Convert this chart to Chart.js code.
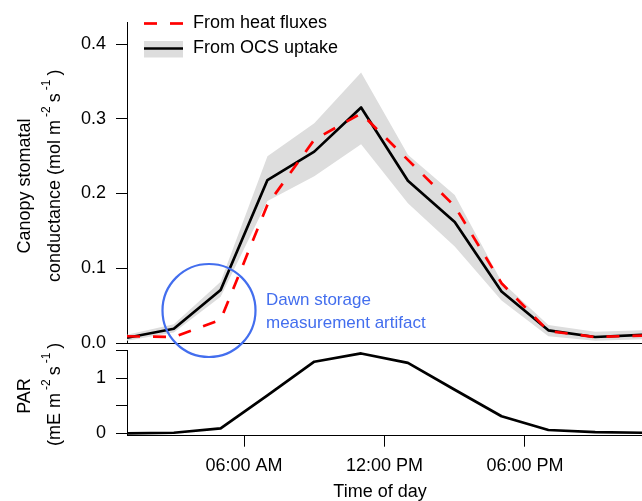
<!DOCTYPE html>
<html>
<head>
<meta charset="utf-8">
<script src="https://cdn.jsdelivr.net/npm/chart.js@4.4.1/dist/chart.umd.min.js"></script>
<style>
  body { margin: 0; background: #fff; }
  #wrap { position: relative; width: 642px; height: 501px; }
  #wrap canvas { position: absolute; left: 0; top: 0; }
</style>
</head>
<body>
<div id="wrap">
  <canvas id="gsChart" width="642" height="501"></canvas>
  <canvas id="parChart" width="642" height="501"></canvas>
</div>
<script>
// data, hourly means every 2 h
var hours = [1, 3, 5, 7, 9, 11, 13, 15, 17, 19, 21, 23];
var ocsUptake  = [0.007, 0.019, 0.071, 0.218, 0.256, 0.315, 0.217, 0.162, 0.069, 0.017, 0.008, 0.011];
var ocsUpper   = [0.011, 0.025, 0.082, 0.250, 0.294, 0.362, 0.252, 0.198, 0.082, 0.024, 0.015, 0.017];
var ocsLower   = [0.003, 0.014, 0.062, 0.190, 0.223, 0.266, 0.187, 0.129, 0.057, 0.009, 0.003, 0.005];
var heatFluxes = [0.009, 0.008, 0.031, 0.185, 0.272, 0.307, 0.245, 0.183, 0.080, 0.016, 0.008, 0.010];
var par        = [0, 0.01, 0.09, 0.69, 1.30, 1.45, 1.28, 0.79, 0.31, 0.06, 0.02, 0.01];

var gsTicks = [0, 0.1, 0.2, 0.3, 0.4];
var parTicks = [0, 0.5, 1, 1.5];
var parTickLabels = ['0', '', '1', ''];
var timeTicks = [6, 12, 18];
var timeTickLabels = ['06:00 AM', '12:00 PM', '06:00 PM'];

var FONT = "'Liberation Sans', Arial, Helvetica, sans-serif";
var BLUE = '#436EEE';

Chart.defaults.font.family = FONT;
Chart.defaults.font.size = 18;
Chart.defaults.color = '#000';

function pts(arr) {
  return hours.map(function (h, i) { return { x: h, y: arr[i] }; });
}

// rotated axis title, parts go bottom -> top
function vText(ctx, xBase, yStart, parts) {
  ctx.save();
  ctx.translate(xBase, yStart);
  ctx.rotate(-Math.PI / 2);
  ctx.textAlign = 'left';
  ctx.textBaseline = 'alphabetic';
  var pos = 0;
  parts.forEach(function (p) {
    ctx.font = (p.sup ? '12px ' : '18px ') + FONT;
    pos += p.gap || 0;
    ctx.fillText(p.t, pos, p.sup ? -10 : 0);
    pos += ctx.measureText(p.t).width;
  });
  ctx.restore();
}

var decor = {
  id: 'decor',
  afterDraw: function (chart) {
    var ctx = chart.ctx;
    ctx.save();
    ctx.fillStyle = '#000';

    // legend
    ctx.fillStyle = '#dddddd';
    ctx.fillRect(144, 41, 39, 16.5);
    ctx.strokeStyle = '#000';
    ctx.lineWidth = 2.7;
    ctx.beginPath(); ctx.moveTo(144, 48.5); ctx.lineTo(183, 48.5); ctx.stroke();
    ctx.strokeStyle = '#ff0000';
    ctx.setLineDash([13, 13]);
    ctx.beginPath(); ctx.moveTo(144, 23.5); ctx.lineTo(183, 23.5); ctx.stroke();
    ctx.setLineDash([]);
    ctx.fillStyle = '#000';
    ctx.font = '18px ' + FONT;
    ctx.textAlign = 'left';
    ctx.textBaseline = 'middle';
    ctx.fillText('From heat fluxes', 193, 23.5);
    ctx.fillText('From OCS uptake', 193, 48.5);

    // y titles
    ctx.save();
    ctx.translate(30, 186);
    ctx.rotate(-Math.PI / 2);
    ctx.textAlign = 'center';
    ctx.textBaseline = 'alphabetic';
    ctx.fillText('Canopy stomatal', 0, 0);
    ctx.restore();
    vText(ctx, 60, 282, [
      { t: 'conductance (mol m' },
      { t: '-2', sup: true, gap: 3 },
      { t: 's', gap: 4 },
      { t: '-1', sup: true, gap: 3 },
      { t: ')', gap: 4 }
    ]);
    ctx.save();
    ctx.translate(30, 396);
    ctx.rotate(-Math.PI / 2);
    ctx.textAlign = 'center';
    ctx.textBaseline = 'alphabetic';
    ctx.font = '18px ' + FONT;
    ctx.fillText('PAR', 0, 0);
    ctx.restore();
    vText(ctx, 60, 446, [
      { t: '(mE m' },
      { t: '-2', sup: true, gap: 3 },
      { t: 's', gap: 4 },
      { t: '-1', sup: true, gap: 3 },
      { t: ')', gap: 4 }
    ]);

    // x title
    ctx.font = '18px ' + FONT;
    ctx.textAlign = 'center';
    ctx.textBaseline = 'alphabetic';
    ctx.fillText('Time of day', 380, 497);

    // annotation
    ctx.strokeStyle = BLUE;
    ctx.lineWidth = 2.2;
    ctx.beginPath();
    ctx.arc(209, 310.5, 46.5, 0, Math.PI * 2);
    ctx.stroke();
    ctx.fillStyle = BLUE;
    ctx.font = '17px ' + FONT;
    ctx.textAlign = 'left';
    ctx.textBaseline = 'middle';
    ctx.fillText('Dawn storage', 266, 300.5);
    ctx.fillText('measurement artifact', 266, 323.5);
    ctx.restore();
  }
};

var gsChart = new Chart(document.getElementById('gsChart'), {
  type: 'line',
  data: {
    datasets: [
      { label: 'From heat fluxes', data: pts(heatFluxes), borderColor: '#ff0000', borderWidth: 2.7,
        borderDash: [13, 13], pointRadius: 0, fill: false, order: 0, borderJoinStyle: 'round' },
      { label: 'From OCS uptake', data: pts(ocsUptake), borderColor: '#000', borderWidth: 2.7,
        pointRadius: 0, fill: false, order: 1, borderJoinStyle: 'round' },
      { label: 'upper', data: pts(ocsUpper), borderWidth: 0, borderColor: 'rgba(0,0,0,0)',
        backgroundColor: '#dddddd', pointRadius: 0, fill: '+1', order: 2 },
      { label: 'lower', data: pts(ocsLower), borderWidth: 0, borderColor: 'rgba(0,0,0,0)',
        pointRadius: 0, fill: false, order: 3 }
    ]
  },
  options: {
    responsive: false,
    animation: false,
    events: [],
    layout: { padding: { top: 22.7, bottom: 158, left: 0, right: 0 } },
    plugins: { legend: { display: false }, tooltip: { enabled: false } },
    scales: {
      x: {
        type: 'linear', min: 1, max: 23,
        ticks: { display: false },
        grid: { drawOnChartArea: false, drawTicks: false },
        border: { color: '#000', width: 1 },
        afterFit: function (s) { s.height = 0; }
      },
      y: {
        min: 0, max: 0.4285,
        afterBuildTicks: function (s) { s.ticks = gsTicks.map(function (v) { return { value: v }; }); },
        ticks: { padding: 10, color: '#000', callback: function (v) { return v.toFixed(1); } },
        grid: { drawOnChartArea: false, tickLength: 11, color: '#000' },
        border: { color: '#000', width: 1 },
        afterFit: function (s) { s.width = 127; }
      }
    }
  },
  plugins: [decor]
});

var parChart = new Chart(document.getElementById('parChart'), {
  type: 'line',
  data: {
    datasets: [
      { label: 'PAR', data: pts(par), borderColor: '#000', borderWidth: 2.7,
        pointRadius: 0, fill: false, borderJoinStyle: 'round' }
    ]
  },
  options: {
    responsive: false,
    animation: false,
    events: [],
    layout: { padding: { top: 350.7, bottom: 0, left: 0, right: 0 } },
    plugins: { legend: { display: false }, tooltip: { enabled: false } },
    scales: {
      x: {
        type: 'linear', min: 1, max: 23,
        afterBuildTicks: function (s) { s.ticks = timeTicks.map(function (v) { return { value: v }; }); },
        ticks: { padding: 9, color: '#000', maxRotation: 0,
          callback: function (v) { var i = timeTicks.indexOf(v); return i >= 0 ? timeTickLabels[i] : ''; } },
        grid: { drawOnChartArea: false, tickLength: 11, color: '#000' },
        border: { color: '#000', width: 1 },
        afterFit: function (s) { s.height = 65.3; }
      },
      y: {
        min: -0.044, max: 1.5,
        afterBuildTicks: function (s) { s.ticks = parTicks.map(function (v) { return { value: v }; }); },
        ticks: { padding: 10, color: '#000',
          callback: function (v) { var i = parTicks.indexOf(v); return i >= 0 ? parTickLabels[i] : ''; } },
        grid: { drawOnChartArea: false, tickLength: 11, color: '#000' },
        border: { color: '#000', width: 1 },
        afterFit: function (s) { s.width = 127; }
      }
    }
  }
});
</script>
</body>
</html>
